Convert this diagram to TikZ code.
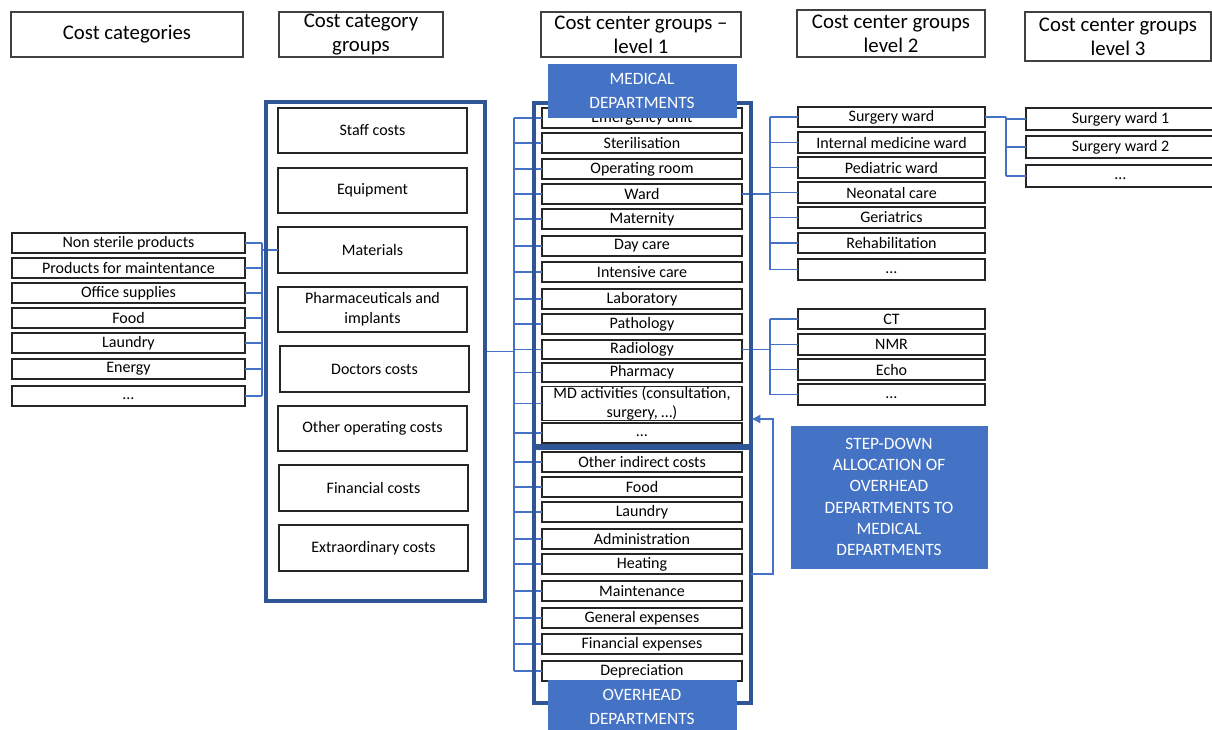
\documentclass[tikz,border=0pt]{standalone}
\usepackage{fontspec}
\setmainfont{Carlito}
\usetikzlibrary{arrows.meta}
\definecolor{accent}{HTML}{4472C4}
\definecolor{dkblue}{HTML}{2F5597}
\newcommand\mybox[7][bx]{\node[#1, minimum width={(#5-#3)*0.75pt}, minimum height={(#6-#4)*0.75pt}] (#2) at ({(#3+#5)/2},{(#4+#6)/2}) {#7};}
\tikzset{
  hdr/.style={draw=black!75, line width=0.8pt, inner sep=0pt, outer sep=0pt, align=center, font=\fontsize{15.6}{18}\selectfont},
  bx/.style={draw=black!85, line width=1pt, fill=white, inner sep=0pt, outer sep=0pt, align=center, font=\fontsize{12}{14.5}\selectfont},
  contarea/.style={inner sep=0pt, outer sep=0pt},
  contline/.style={draw=dkblue, line width=2.3pt},
  lbl/.style={fill=accent, draw=accent, line width=0.5pt, text=white, inner sep=0pt, outer sep=0pt, align=center, font=\fontsize{13}{16}\selectfont},
  conn/.style={draw=accent, line width=0.8pt},
  arr/.style={draw=accent, line width=1.9pt, -{Latex[length=7pt,width=7pt]}}
}
\begin{document}
\begin{tikzpicture}[x=0.75pt,y=-0.75pt]
\clip (0,0) rectangle (1212,729);
\fill[white] (0,0) rectangle (1212,729);
% headers
\mybox[hdr]{h1}{11}{12}{243}{57}{Cost categories}
\mybox[hdr]{h2}{279}{12}{443}{57}{Cost category\\groups}
\mybox[hdr]{h3}{541}{12}{741}{57}{Cost center groups –\\level 1}
\mybox[hdr]{h4}{797}{10}{985}{57}{Cost center groups\\level 2}
\mybox[hdr]{h5}{1025}{12}{1211}{61}{Cost center groups\\level 3}
% bus coordinates
\coordinate (busA) at (262,0);
\coordinate (busB) at (514,0);
\coordinate (busC) at (770,0);
\coordinate (busD) at (1006,0);
% container areas
\mybox[contarea]{grp}{266}{102}{485}{601}{}
\mybox[contarea]{med}{534}{103}{751}{446}{}
\mybox[contarea]{ovh}{534}{448}{751}{703}{}
% cost categories
\mybox{c1}{12}{233}{245}{253}{Non sterile products}
\mybox{c2}{12}{258}{245}{278}{Products for maintentance}
\mybox{c3}{12}{283}{245}{303}{Office supplies}
\mybox{c4}{12}{308}{245}{328}{Food}
\mybox{c5}{12}{333}{245}{353}{Laundry}
\mybox{c6}{12}{359}{245}{379}{Energy}
\mybox{c7}{12}{386}{245}{406}{\strut…}
% cost category groups
\mybox{g1}{278}{108}{467}{153}{Staff costs}
\mybox{g2}{278}{168}{467}{213}{Equipment}
\mybox{g3}{278}{227}{467}{273}{Materials}
\mybox{g4}{278}{287}{467}{332}{Pharmaceuticals and\\[0.5pt]implants}
\mybox{g5}{280}{346}{469}{392}{Doctors costs}
\mybox{g6}{278}{406}{467}{451}{Other operating costs}
\mybox{g7}{279}{465}{468}{511}{Financial costs}
\mybox{g8}{279}{525}{468}{571}{Extraordinary costs}
% level 1 medical
\mybox{m1}{542}{108}{742}{128}{Emergency unit}
\mybox{m2}{542}{133}{742}{153}{Sterilisation}
\mybox{m3}{542}{159}{742}{179}{Operating room}
\mybox{m4}{542}{184}{742}{204}{Ward}
\mybox{m5}{542}{209}{742}{229}{Maternity}
\mybox{m6}{542}{236}{742}{256}{Day care}
\mybox{m7}{542}{262}{742}{282}{Intensive care}
\mybox{m8}{542}{289}{742}{309}{Laboratory}
\mybox{m9}{542}{314}{742}{334}{Pathology}
\mybox{m10}{542}{340}{742}{359}{Radiology}
\mybox{m11}{542}{363}{742}{382}{Pharmacy}
\mybox{m12}{542}{388}{742}{419}{MD activities (consultation,\\surgery, …)}
\mybox{m13}{542}{423}{742}{443}{\strut…}
% level 1 overhead
\mybox{o1}{542}{452}{742}{472}{Other indirect costs}
\mybox{o2}{542}{477}{742}{497}{Food}
\mybox{o3}{542}{502}{742}{522}{Laundry}
\mybox{o4}{542}{529}{742}{549}{Administration}
\mybox{o5}{542}{554}{742}{574}{Heating}
\mybox{o6}{542}{581}{742}{601}{Maintenance}
\mybox{o7}{542}{608}{742}{628}{General expenses}
\mybox{o8}{542}{634}{742}{654}{Financial expenses}
\mybox{o9}{542}{661}{742}{681}{Depreciation}
% level 2
\mybox{w1}{798}{107}{985}{127}{Surgery ward}
\mybox{w2}{798}{132}{985}{153}{Internal medicine ward}
\mybox{w3}{798}{157}{985}{178}{Pediatric ward}
\mybox{w4}{798}{182}{985}{203}{Neonatal care}
\mybox{w5}{798}{207}{985}{228}{Geriatrics}
\mybox{w6}{798}{233}{985}{253}{Rehabilitation}
\mybox{w7}{798}{259}{985}{280}{\strut…}
\mybox{r1}{798}{309}{985}{329}{CT}
\mybox{r2}{798}{334}{985}{355}{NMR}
\mybox{r3}{798}{359}{985}{380}{Echo}
\mybox{r4}{798}{384}{985}{405}{\strut…}
% level 3
\mybox{s1}{1026}{108}{1215}{130}{Surgery ward 1}
\mybox{s2}{1026}{136}{1215}{158}{Surgery ward 2}
\mybox{s3}{1026}{165}{1215}{187}{\strut…}
% connectors
\foreach \n in {c1,c2,c3,c4,c5,c6,c7} \draw[conn] (\n.east) -- (\n.east -| busA);
\draw[conn] (c1.east -| busA) -- (c7.east -| busA);
\draw[conn] (busA |- g3.west) -- (g3.west);
\draw[conn] (grp.east) -- (grp.east -| busB);
\draw[conn] (busB |- m1.west) -- (busB |- o9.west);
\foreach \n in {m1,m2,m3,m4,m5,m6,m7,m8,m9,m10,m11,m12,m13,o1,o2,o3,o4,o5,o6,o7,o8,o9}
  \draw[conn] (busB |- \n.west) -- (\n.west);
\draw[conn] (m4.east) -- (m4.east -| busC);
\draw[conn] (busC |- w1.west) -- (busC |- w7.west);
\foreach \n in {w1,w2,w3,w4,w5,w6,w7} \draw[conn] (busC |- \n.west) -- (\n.west);
\draw[conn] (m10.east) -- (m10.east -| busC);
\draw[conn] (busC |- r1.west) -- (busC |- r4.west);
\foreach \n in {r1,r2,r3,r4} \draw[conn] (busC |- \n.west) -- (\n.west);
\draw[conn] (w1.east) -- (w1.east -| busD);
\draw[conn] (busD |- w1.east) -- (busD |- s3.west);
\foreach \n in {s1,s2,s3} \draw[conn] (busD |- \n.west) -- (\n.west);
% container borders
\draw[contline] (grp.north west) rectangle (grp.south east);
\draw[contline] (med.north west) rectangle (med.south east);
\draw[contline] (ovh.north west) rectangle (ovh.south east);
% labels
\mybox[lbl]{lm}{548}{64}{736}{117}{MEDICAL\\[2pt]DEPARTMENTS}
\mybox[lbl]{lo}{548}{680}{736}{734}{OVERHEAD\\[2pt]DEPARTMENTS}
\mybox[lbl]{ls}{791}{426}{987}{568}{STEP-DOWN\\ALLOCATION OF\\OVERHEAD\\DEPARTMENTS TO\\MEDICAL\\DEPARTMENTS}
% step-down arrow
\coordinate (aB) at (773,574);
\coordinate (aT) at (773,419);
\draw[arr] (aB -| ovh.east) -- (aB) -- (aT) -- (aT -| ovh.east);
\end{tikzpicture}
\end{document}
